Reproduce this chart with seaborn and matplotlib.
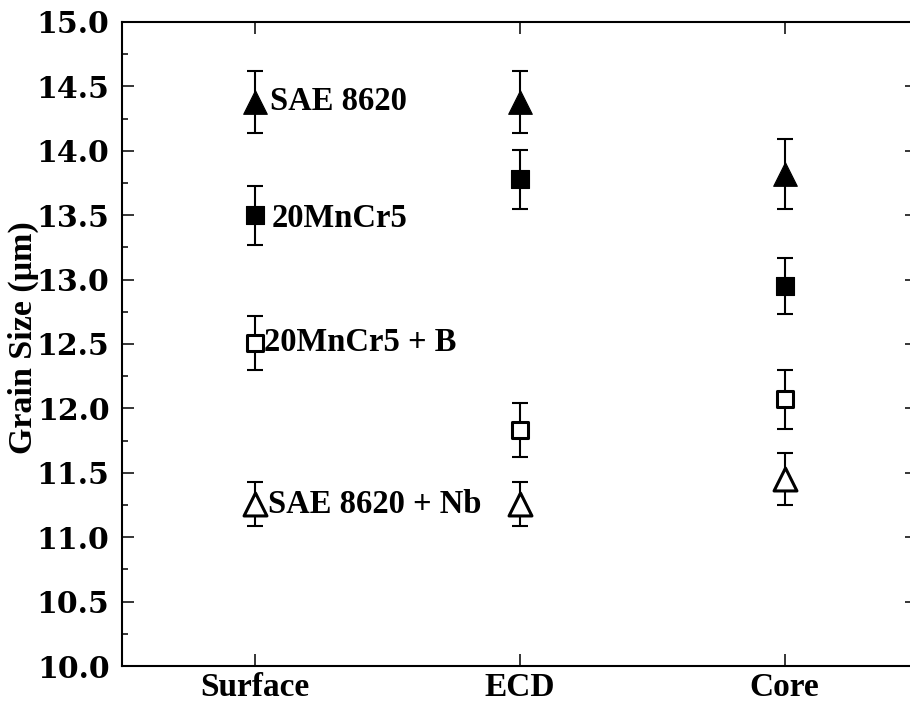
import matplotlib
matplotlib.use("Agg")
import matplotlib.pyplot as plt
import seaborn as sns
import numpy as np
import pandas as pd
from matplotlib.ticker import MultipleLocator

# ---- data ----
locations = ["Surface", "ECD", "Core"]
series_names = ["SAE 8620", "20MnCr5", "20MnCr5 + B", "SAE 8620 + Nb"]
sae8620 = [14.38, 14.38, 13.82]
sae8620_err = [0.24, 0.24, 0.27]
mncr5 = [13.50, 13.78, 12.95]
mncr5_err = [0.23, 0.23, 0.22]
mncr5_b = [12.51, 11.83, 12.07]
mncr5_b_err = [0.21, 0.21, 0.23]
sae8620_nb = [11.26, 11.26, 11.45]
sae8620_nb_err = [0.17, 0.17, 0.20]
y_ticks = [10.0, 10.5, 11.0, 11.5, 12.0, 12.5, 13.0, 13.5, 14.0, 14.5, 15.0]

sns.set_theme(style="ticks")
plt.rcParams["font.family"] = ["Liberation Serif", "DejaVu Serif"]
plt.rcParams["font.weight"] = "bold"
for key in ["text.color", "axes.labelcolor", "xtick.color", "ytick.color",
            "xtick.labelcolor", "ytick.labelcolor", "axes.edgecolor"]:
    plt.rcParams[key] = "black"

fig = plt.figure(figsize=(9.1, 7.04), dpi=100)
ax = fig.add_axes([122 / 910, 38 / 704, 795 / 910, 644 / 704])

styles = [
    (sae8620, sae8620_err, "^", "black", 17),
    (mncr5, mncr5_err, "s", "black", 12.5),
    (mncr5_b, mncr5_b_err, "s", "white", 12),
    (sae8620_nb, sae8620_nb_err, "^", "white", 16.5),
]
label_offsets = [(16, 0), (17, -3), (10, 0), (13, -1)]

for name, (vals, errs, mk, fc, ms), off in zip(series_names, styles, label_offsets):
    df = pd.DataFrame({"Location": locations, "Grain": vals})
    ax.errorbar(df["Location"], df["Grain"], yerr=errs, fmt="none",
                ecolor="black", elinewidth=1.5, capsize=5.8, capthick=1.5, zorder=2)
    sns.scatterplot(data=df, x="Location", y="Grain", marker=mk, s=ms ** 2,
                    color=fc, edgecolor="black",
                    linewidth=(2.2 if fc == "white" else 0.8), ax=ax, zorder=3)
    ax.annotate(name, xy=(0, vals[0]), xytext=off, textcoords="offset pixels",
                ha="left", va="center", fontsize=23.5, fontweight="bold",
                family=["Liberation Serif"], color="black")

ax.set_xlim(-0.5, 2.5)
ax.set_ylim(10.0, 15.0)
ax.set_yticks(y_ticks)
ax.set_yticklabels([f"{v:.1f}" for v in y_ticks], family=["DejaVu Serif"],
                   fontsize=21.5, fontweight="bold", color="black")
ax.yaxis.set_minor_locator(MultipleLocator(0.25))
ax.set_xticks(range(len(locations)))
ax.set_xticklabels(locations, family=["Liberation Serif"], fontsize=24,
                   fontweight="bold", color="black")
ax.set_xlabel("")
ax.set_ylabel("Grain Size (\u03bcm)", family=["Liberation Serif", "DejaVu Serif"],
              fontsize=24.5, fontweight="bold", color="black")
ax.yaxis.set_label_coords(-0.104, 0.51)

ax.tick_params(axis="both", which="major", direction="in", length=8.6, width=1.1,
               top=True, right=True, color="black")
ax.tick_params(axis="y", which="major", pad=9)
ax.tick_params(axis="x", which="major", pad=4)
ax.tick_params(axis="y", which="minor", direction="in", length=4.3, width=1.1,
               left=True, right=True, color="black")
ax.tick_params(axis="x", which="minor", bottom=False, top=False)
for sp in ax.spines.values():
    sp.set_visible(True)
    sp.set_linewidth(1.5)
    sp.set_color("black")
ax.set_facecolor("white")
ax.grid(False)

fig.savefig("out.png", dpi=100, facecolor="white")
